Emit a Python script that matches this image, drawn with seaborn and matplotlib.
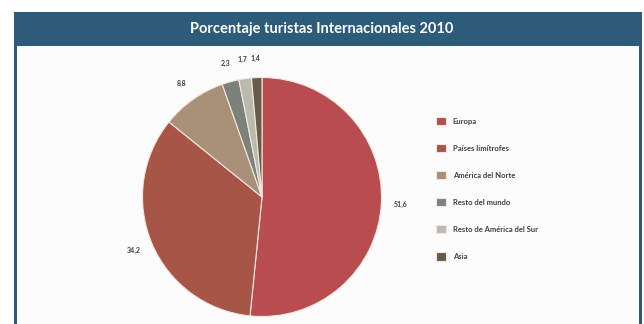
import matplotlib
matplotlib.use("Agg")
import matplotlib.pyplot as plt
from matplotlib.patches import Rectangle
import seaborn as sns

# data
regiones = ["Europa", "Países limítrofes", "América del Norte",
            "Resto del mundo", "Resto de América del Sur", "Asia"]
porcentajes = [51.6, 34.2, 8.8, 2.3, 1.7, 1.4]
colores = ["#b84c4f", "#a65547", "#a99078", "#7b827c", "#b9bbae", "#6a5a48"]
titulo = "Porcentaje turistas Internacionales 2010"

sns.set_theme(style="white")
plt.rcParams['font.family'] = ['Lato', 'DejaVu Sans']

W, H = 644, 324
fig = plt.figure(figsize=(W / 100, H / 100), dpi=100)
fig.patch.set_facecolor("white")

def px(x0, y0, x1, y1):
    # pixel box (top-left origin) -> figure fraction rect
    return (x0 / W, 1 - y1 / H, (x1 - x0) / W, (y1 - y0) / H)

header = "#2d5b7a"
# white panel with dark side borders
x, y, w, h = px(14, 12, 642, 324)
fig.patches.append(Rectangle((x, y), w, h, transform=fig.transFigure,
                             facecolor="#fcfcfc", edgecolor="none", zorder=-3))
for bx0, bx1 in [(14, 17), (639, 642)]:
    x, y, w, h = px(bx0, 12, bx1, 324)
    fig.patches.append(Rectangle((x, y), w, h, transform=fig.transFigure,
                                 facecolor=header, edgecolor="none", zorder=-2))
x, y, w, h = px(14, 12, 642, 46)
fig.patches.append(Rectangle((x, y), w, h, transform=fig.transFigure,
                             facecolor=header, edgecolor="none", zorder=-2))
fig.text(322 / W, 1 - 29 / H, titulo, color="white", fontsize=10.5,
         fontweight="bold", ha="center", va="center")

# pie
cx, cy, r = 262, 197, 119.5
ax = fig.add_axes(px(cx - r, cy - r, cx + r, cy + r))
ax.patch.set_alpha(0)
wedges, _, autotexts = ax.pie(
    porcentajes, colors=colores, startangle=90, counterclock=False,
    autopct=lambda p: f"{p:.1f}".replace(".", ","), pctdistance=1.16,
    wedgeprops=dict(edgecolor="#f3e6df", linewidth=0.8),
    textprops=dict(fontsize=5, fontweight="bold", color="#404040"))
ax.set_xlim(-1, 1)
ax.set_ylim(-1, 1)
ax.set_aspect("equal")
ax.axis("off")

fig.legend(wedges, regiones, loc="upper left",
           bbox_to_anchor=(436 / W, 1 - 117 / H), frameon=False,
           handlelength=1.3, handleheight=1.3,
           handletextpad=0.9, labelspacing=2.45, borderpad=0, borderaxespad=0,
           labelcolor="#404040", prop=dict(weight="bold", size=5.5))

fig.savefig("out.png", dpi=100)
